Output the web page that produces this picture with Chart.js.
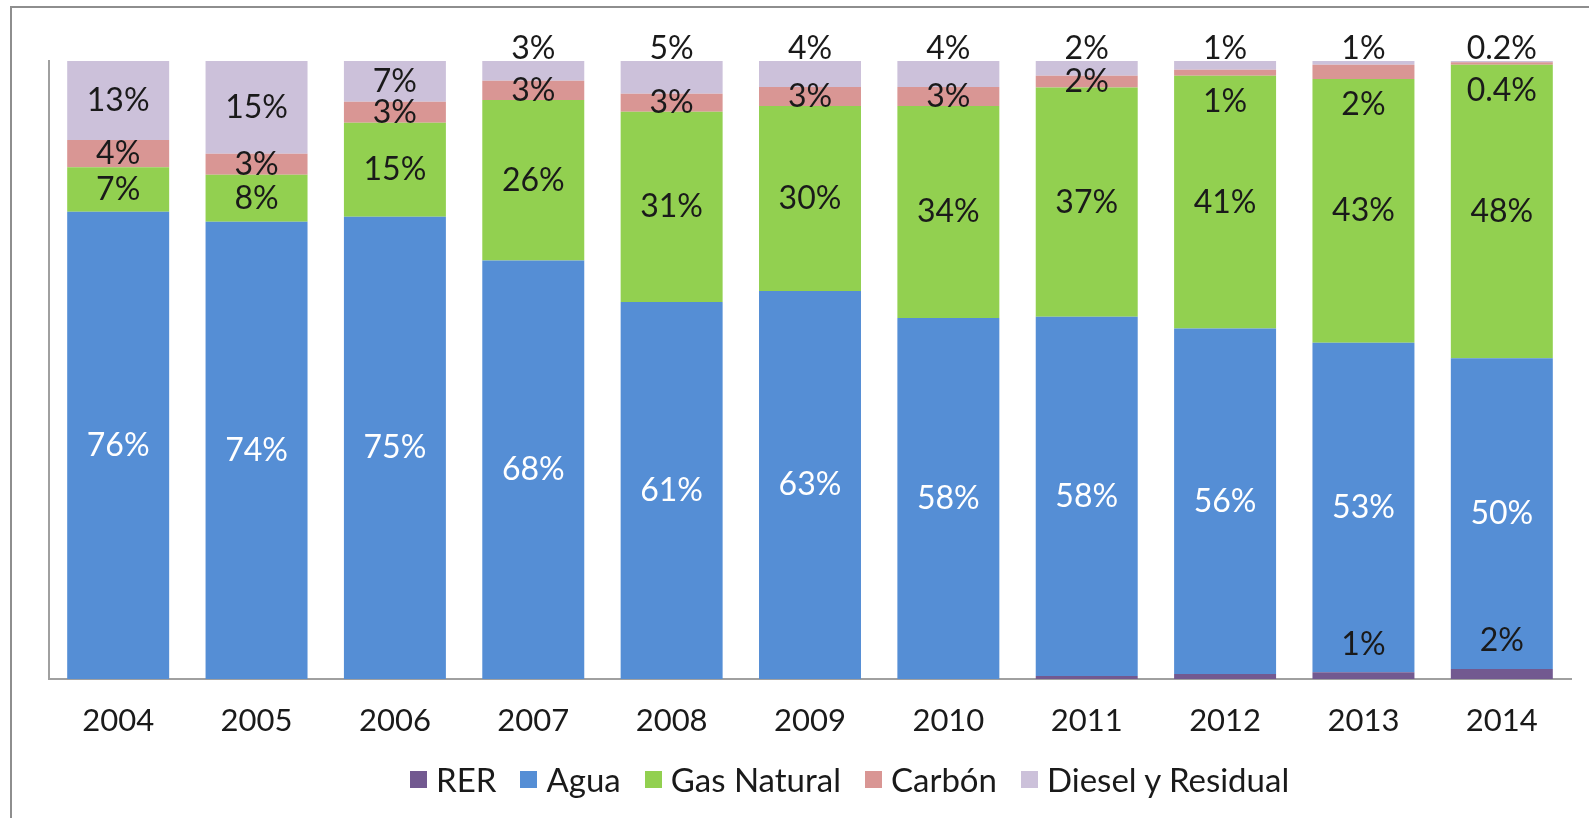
<!DOCTYPE html>
<html>
<head>
<meta charset="utf-8">
<script src="https://cdn.jsdelivr.net/npm/chart.js@4/dist/chart.umd.min.js"></script>
<style>
  html, body { margin: 0; padding: 0; background: #fff; }
  #wrap { position: relative; width: 1589px; height: 818px; overflow: hidden; }
  #frame { position: absolute; left: 10px; top: 6px; right: -10px; bottom: -10px;
           border-left: 2px solid #8e8e8e; border-top: 2px solid #8e8e8e; }
  #chart { position: absolute; left: 0; top: 0; }
  #legend { position: absolute; left: 410px; top: 759px; display: flex; align-items: center;
            font-family: Lato, 'Open Sans', sans-serif; font-size: 33px; color: #1a1a1a; white-space: nowrap; }
  #legend .item { display: flex; align-items: center; margin-right: 24px; }
  #legend .box { width: 17px; height: 17px; margin-right: 9px; }
</style>
</head>
<body>
<div id="wrap">
  <div id="frame"></div>
  <canvas id="chart" width="1589" height="818"></canvas>
  <div id="legend"></div>
</div>
<script>
  const years = ['2004', '2005', '2006', '2007', '2008', '2009', '2010', '2011', '2012', '2013', '2014'];
  const rer = [0, 0, 0, 0, 0, 0, 0, 0.5, 0.8, 1.1, 1.6];
  const agua = [75.6, 74.0, 74.8, 67.7, 61.0, 62.8, 58.4, 58.1, 55.9, 53.3, 50.3];
  const gasNatural = [7.2, 7.6, 15.2, 26.0, 30.8, 29.9, 34.3, 37.1, 40.9, 42.7, 47.5];
  const carbon = [4.4, 3.4, 3.4, 3.1, 2.9, 3.1, 3.1, 1.9, 1.0, 2.3, 0.4];
  const diesel = [12.8, 15.0, 6.6, 3.2, 5.3, 4.2, 4.2, 2.4, 1.4, 0.6, 0.2];

  const FONT = 'Lato, "Open Sans", sans-serif';
  const TEXT = '#1a1a1a';

  function fmt(v) {
    return v < 0.5 ? v.toFixed(1) + '%' : Math.round(v) + '%';
  }

  // Excel-style labels: centered, crowded ones moved above / below the segment
  const barLabels = {
    id: 'barLabels',
    afterDatasetsDraw(chart) {
      const ctx = chart.ctx;
      const top = chart.chartArea.top;
      ctx.save();
      ctx.font = '32px ' + FONT;
      ctx.textAlign = 'center';
      ctx.textBaseline = 'middle';
      chart.data.datasets.forEach((ds, di) => {
        const meta = chart.getDatasetMeta(di);
        meta.data.forEach((bar, i) => {
          const v = ds.data[i];
          if (!v) return;
          let y = (bar.y + bar.base) / 2;
          if (ds.label === 'RER') {
            if (v < 1) return;
            y = bar.y - 28;
          } else if (ds.label === 'Carbón' && bar.base - top < 22) {
            y = bar.base + 26;
          } else if (ds.label === 'Diesel y Residual' && v < 6) {
            y = bar.y - 12;
          }
          ctx.fillStyle = ds.label === 'Agua' ? '#ffffff' : TEXT;
          ctx.fillText(fmt(v), bar.x, y);
        });
      });
      ctx.restore();
    }
  };

  const chart = new Chart(document.getElementById('chart'), {
    type: 'bar',
    data: {
      labels: years,
      datasets: [
        { label: 'RER', data: rer, backgroundColor: '#725990' },
        { label: 'Agua', data: agua, backgroundColor: '#558ed5' },
        { label: 'Gas Natural', data: gasNatural, backgroundColor: '#92d050' },
        { label: 'Carbón', data: carbon, backgroundColor: '#d99694' },
        { label: 'Diesel y Residual', data: diesel, backgroundColor: '#ccc1da' },
      ],
    },
    options: {
      responsive: false,
      animation: false,
      categoryPercentage: 1,
      barPercentage: 0.737,
      layout: { padding: { left: 49, right: 18, top: 61, bottom: 59 } },
      plugins: { legend: { display: false }, tooltip: { enabled: false } },
      scales: {
        x: {
          stacked: true,
          grid: { display: false, drawTicks: false },
          border: { display: true, color: '#a0a0a0', width: 2 },
          ticks: { color: TEXT, font: { family: FONT, size: 31 }, padding: 23 },
          afterFit: (s) => { s.height = 80; },
        },
        y: {
          stacked: true,
          min: 0,
          max: 100,
          grid: { display: false, drawTicks: false },
          border: { display: true, color: '#a0a0a0', width: 2 },
          ticks: { display: false },
          afterFit: (s) => { s.width = 0; },
        },
      },
    },
    plugins: [barLabels],
  });

  const legendEl = document.getElementById('legend');
  chart.data.datasets.forEach((ds) => {
    const item = document.createElement('div');
    item.className = 'item';
    const box = document.createElement('span');
    box.className = 'box';
    box.style.background = ds.backgroundColor;
    const txt = document.createElement('span');
    txt.textContent = ds.label;
    item.appendChild(box);
    item.appendChild(txt);
    legendEl.appendChild(item);
  });
</script>
</body>
</html>
